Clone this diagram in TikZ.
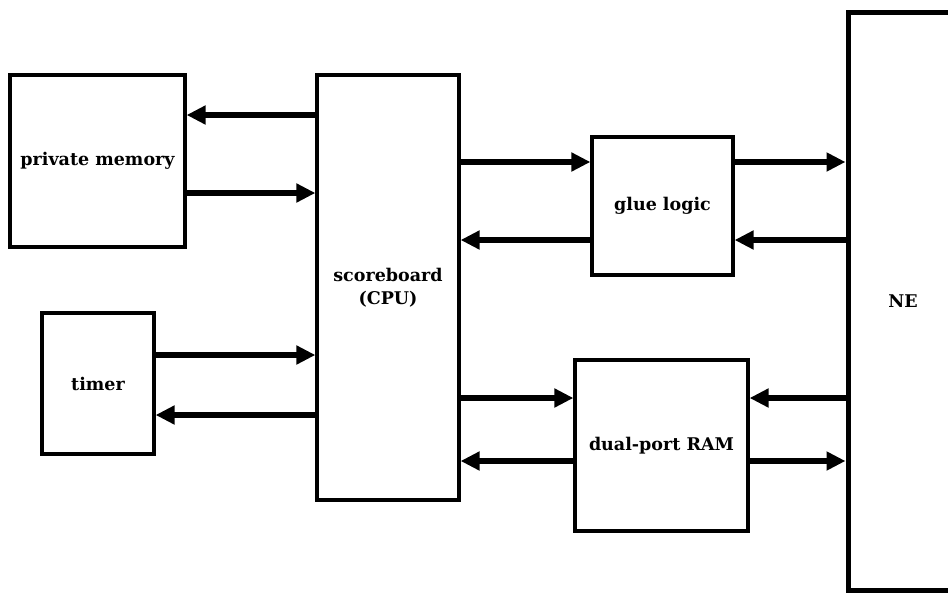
\documentclass[tikz,border=0pt]{standalone}
\usepackage{fontspec}
\setmainfont{DejaVu Serif}
\usetikzlibrary{arrows.meta}
\begin{document}
\begin{tikzpicture}[x=1pt,y=-1pt,
  box/.style={draw, line width=3.2pt, inner sep=0pt, align=center,
    font=\bfseries\fontsize{17.5}{23}\selectfont},
  arr/.style={line width=5.5pt, -{Triangle[length=19pt,width=18pt]}}]
\useasboundingbox[fill=white] (0,0) rectangle (948,592);
% boxes
\node[box, minimum width=175pt, minimum height=172pt] (pm) at (97.5,161) {private memory};
\node[box, minimum width=112pt, minimum height=141pt] (timer) at (98,383.5) {timer};
\node[box, minimum width=142pt, minimum height=425pt] (sb) at (388,287.5) {scoreboard\\(CPU)};
\node[box, minimum width=141pt, minimum height=138pt] (glue) at (662.5,206) {glue logic};
\node[box, minimum width=173pt, minimum height=171pt] (ram) at (661.5,445.5) {dual-port RAM};
\node[box, line width=5pt, minimum width=110pt, minimum height=578pt] (ne) at (903,301) {NE};
% levels
\coordinate (l1) at (0,115);
\coordinate (l2) at (0,193);
\coordinate (l3) at (0,355);
\coordinate (l4) at (0,415);
\coordinate (l5) at (0,162);
\coordinate (l6) at (0,240);
\coordinate (l7) at (0,398);
\coordinate (l8) at (0,461);
% connectors
\draw[arr] (sb.west |- l1) -- (pm.east |- l1);
\draw[arr] (pm.east |- l2) -- (sb.west |- l2);
\draw[arr] (timer.east |- l3) -- (sb.west |- l3);
\draw[arr] (sb.west |- l4) -- (timer.east |- l4);
\draw[arr] (sb.east |- l5) -- (glue.west |- l5);
\draw[arr] (glue.west |- l6) -- (sb.east |- l6);
\draw[arr] (glue.east |- l5) -- (ne.west |- l5);
\draw[arr] (ne.west |- l6) -- (glue.east |- l6);
\draw[arr] (sb.east |- l7) -- (ram.west |- l7);
\draw[arr] (ram.west |- l8) -- (sb.east |- l8);
\draw[arr] (ne.west |- l7) -- (ram.east |- l7);
\draw[arr] (ram.east |- l8) -- (ne.west |- l8);
\end{tikzpicture}
\end{document}
